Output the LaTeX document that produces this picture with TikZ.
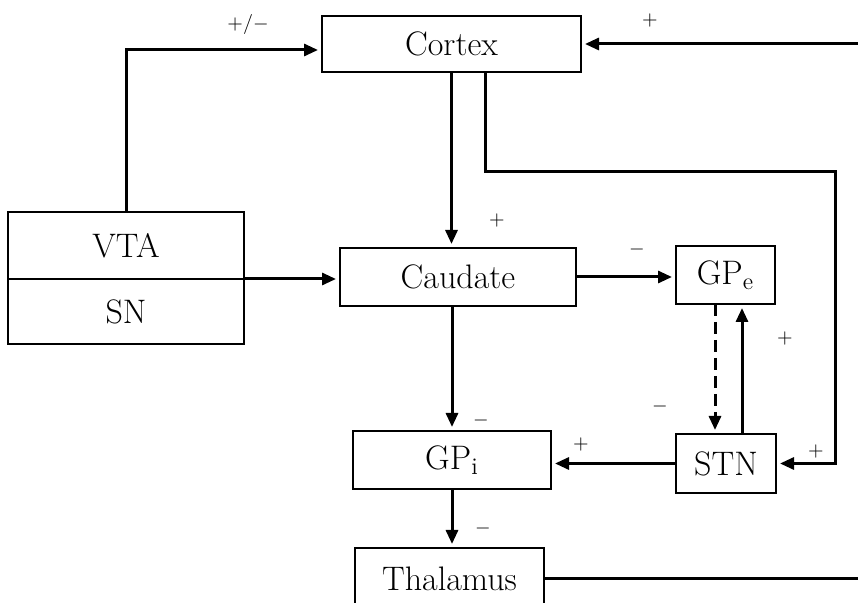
\documentclass[tikz,border=0pt]{standalone}
\usetikzlibrary{calc,arrows.meta}
\begin{document}
\begin{tikzpicture}[x=0.5pt,y=-0.5pt,every node/.style={outer sep=0pt}]
\tikzstyle{block}=[draw,line width=1pt,inner sep=0pt,font=\fontsize{17}{20}\selectfont]
\tikzstyle{link}=[line width=1.5pt,-{Triangle[length=7pt,width=6pt]},shorten >=2pt]
\tikzstyle{sign}=[inner sep=0pt,font=\fontsize{10}{11}\selectfont]

\clip (0,0) rectangle (858,603);

% boxes
\node (Cortex) [block,minimum width=129.5pt,minimum height=28pt] at (451.5,44) {Cortex};
\node (VTA) [block,minimum width=118pt,minimum height=33.5pt] at (126,245.5) {VTA};
\node (SN) [block,minimum width=118pt,minimum height=32.5pt,anchor=north] at (VTA.south) {SN};
\node (Caudate) [block,minimum width=118pt,minimum height=29pt] at (458,277) {Caudate};
\node (GPe) [block,minimum width=49.5pt,minimum height=29pt] at (725.5,275) {GP\textsubscript{e}};
\node (STN) [block,minimum width=50pt,minimum height=29.5pt] at (726,463.5) {STN};
\node (GPi) [block,minimum width=99pt,minimum height=29pt] at (452,460) {GP\textsubscript{i}};
\node (Thalamus) [block,minimum width=94.5pt,minimum height=31pt] at (449.5,579) {Thalamus};

\coordinate (bend) at (835,172);
\coordinate (cortexin) at (858,44);
\coordinate (thalout) at (858,577);

% connections
\draw [link] (VTA.north) |- ([yshift=-3pt]Cortex.west);
\draw [link] (VTA.south east) -- (VTA.south east -| Caudate.west);
\draw [link] (Cortex.south) -- (Cortex.south |- Caudate.north);
\draw [link] ([xshift=16.75pt]Cortex.south) |- (bend) |- (STN.east);
\draw [link] (cortexin) -- (Cortex.east);
\draw [line width=1.5pt] (Thalamus.east) -- (Thalamus.east -| thalout);
\draw [link] (Caudate.east) -- (Caudate.east -| GPe.west);
\draw [link,dashed,dash pattern=on 6pt off 3pt] ([xshift=-5.25pt]GPe.south) -- ([xshift=-5.25pt]GPe.south |- STN.north);
\draw [link] ([xshift=8pt]STN.north) -- ([xshift=8pt]STN.north |- GPe.south);
\draw [link] (STN.west) -- (STN.west -| GPi.east);
\draw [link] (Caudate.south -| GPi.north) -- (GPi.north);
\draw [link] (GPi.south) -- (GPi.south |- Thalamus.north);

% signs
\node [sign] at (248,25) {$+/-$};
\node [sign] at (650,21) {$+$};
\node [sign] at (497,221) {$+$};
\node [sign] at (637,250) {$-$};
\node [sign] at (785,339) {$+$};
\node [sign] at (660,407) {$-$};
\node [sign] at (816,452) {$+$};
\node [sign] at (581,445) {$+$};
\node [sign] at (481,421) {$-$};
\node [sign] at (483,529) {$-$};
\end{tikzpicture}
\end{document}
